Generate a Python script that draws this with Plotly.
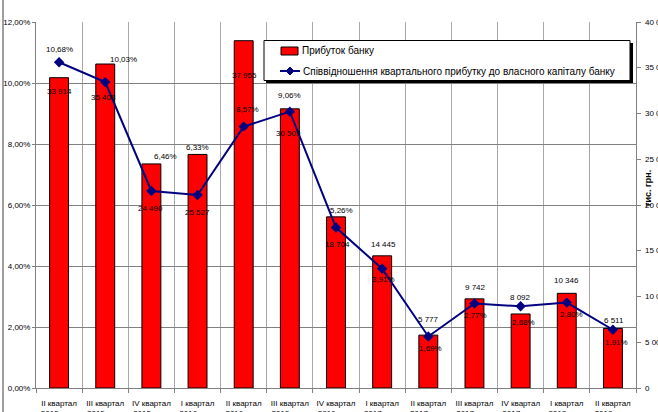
import plotly.graph_objects as go

# ---------------- data ----------------
categories = [
    "II квартал<br>2015 року", "III квартал<br>2015 року", "IV квартал<br>2015 року",
    "I квартал<br>2016 року", "II квартал<br>2016 року", "III квартал<br>2015 року",
    "IV квартал<br>2016 року", "I квартал<br>2017 року", "II квартал<br>2017 року",
    "III квартал<br>2017 року", "IV квартал<br>2017 року", "I квартал<br>2018 року",
    "II квартал<br>2018 року",
]
profit = [33914, 35408, 24490, 25527, 37955, 30509, 18704, 14445, 5777, 9742, 8092, 10346, 6511]
ratio = [10.68, 10.03, 6.46, 6.33, 8.57, 9.06, 5.26, 3.91, 1.69, 2.77, 2.68, 2.80, 1.91]

left_tickvals = [0, 2, 4, 6, 8, 10, 12]
left_ticktext = ["0,00%", "2,00%", "4,00%", "6,00%", "8,00%", "10,00%", "12,00%"]
right_tickvals = [0, 5000, 10000, 15000, 20000, 25000, 30000, 35000, 40000]
right_ticktext = ["0", "5 000", "10 000", "15 000", "20 000", "25 000", "30 000", "35 000", "40 000"]

name_profit = "Прибуток банку"
name_ratio = "Співвідношення квартального прибутку до власного капіталу банку"
right_title = "тис. грн."

# label placement offsets in px (dx right, dy down)
ratio_dx = [0, 18, 14, 0, 4, 0, 5, 1, 2, 1, 3, 5, 4]
ratio_dy = [-13, -23, -34, -47, -17, -16, -17, 11, 12, 12, 16, 12, 13]
profit_dx = [0, -2, -1, 0, 1, -1, 1, 1, 0, 1, 0, 0, 1]
profit_dy = [14, 33, 45, 58, 35, 25, 28, -11, -16, -11, -16, -13, -8]

# ---------------- figure ----------------
W, H = 658, 412
ML, MR, MT, MB = 36, 22, 22, 24
PW, PH = W - ML - MR, H - MT - MB
FONT = "Liberation Sans, Arial, sans-serif"
NAVY = "#000080"


def px_x(p):
    return (p - ML) / PW


def px_y(p):
    return (H - MB - p) / PH


xpos = list(range(len(categories)))

fig = go.Figure()
fig.add_trace(go.Bar(
    x=xpos, y=profit, name=name_profit, yaxis="y", width=0.41,
    marker=dict(color="#FF0000", line=dict(color="#000000", width=1)),
    showlegend=False, hoverinfo="skip",
))
fig.add_trace(go.Scatter(
    x=xpos, y=ratio, name=name_ratio, yaxis="y2", mode="lines+markers",
    line=dict(color=NAVY, width=2),
    marker=dict(symbol="diamond", size=8, color=NAVY),
    showlegend=False, hoverinfo="skip",
))

annotations = []
for i, v in enumerate(ratio):
    annotations.append(dict(
        x=xpos[i], y=v, xref="x", yref="y2", text=f"{v:.2f}%".replace(".", ","),
        showarrow=False, xshift=ratio_dx[i], yshift=-ratio_dy[i],
        font=dict(size=8, color="#000000", family=FONT),
    ))
for i, v in enumerate(profit):
    annotations.append(dict(
        x=xpos[i], y=v, xref="x", yref="y", text=f"{v:,}".replace(",", " "),
        showarrow=False, xshift=profit_dx[i], yshift=-profit_dy[i],
        font=dict(size=8, color="#000000", family=FONT),
    ))
# right axis tick labels (run past the right edge of the picture, as in the original)
for tv, tt in zip(right_tickvals, right_ticktext):
    annotations.append(dict(
        x=px_x(643), y=tv, xref="paper", yref="y", text=tt,
        xanchor="left", yanchor="middle", showarrow=False,
        font=dict(size=8, color="#000000", family=FONT),
    ))
# right axis title
annotations.append(dict(
    x=px_x(648), y=px_y(189), xref="paper", yref="paper", text="<b>" + right_title + "</b>",
    xanchor="center", yanchor="middle",
    textangle=-90, showarrow=False, font=dict(size=9, color="#000000", family=FONT),
))
# legend texts
annotations.append(dict(
    x=px_x(300), y=px_y(51), xref="paper", yref="paper", text=name_profit,
    xanchor="left", yanchor="middle", showarrow=False,
    font=dict(size=10, color="#000000", family=FONT),
))
annotations.append(dict(
    x=px_x(301), y=px_y(71), xref="paper", yref="paper", text=name_ratio,
    xanchor="left", yanchor="middle", showarrow=False,
    font=dict(size=10, color="#000000", family=FONT),
))

dx, dy = 4 / PW, 4 / PH
diamond = (f"M {px_x(290) - dx},{px_y(71)} L {px_x(290)},{px_y(71) + dy} "
           f"L {px_x(290) + dx},{px_y(71)} L {px_x(290)},{px_y(71) - dy} Z")
shapes = [
    # chart border on the left
    dict(type="line", xref="paper", yref="paper", x0=px_x(3), x1=px_x(3), y0=px_y(412), y1=px_y(0),
         line=dict(color="#404040", width=1)),
    # legend shadow and box
    dict(type="rect", xref="paper", yref="paper", x0=px_x(266), x1=px_x(633), y0=px_y(83), y1=px_y(43),
         fillcolor="#000000", line=dict(width=0), layer="above"),
    dict(type="rect", xref="paper", yref="paper", x0=px_x(264), x1=px_x(630), y0=px_y(80.5), y1=px_y(40.5),
         fillcolor="#FFFFFF", line=dict(color="#000000", width=1), layer="above"),
    # legend symbols
    dict(type="rect", xref="paper", yref="paper", x0=px_x(281), x1=px_x(298), y0=px_y(55), y1=px_y(47),
         fillcolor="#FF0000", line=dict(color="#000000", width=1), layer="above"),
    dict(type="line", xref="paper", yref="paper", x0=px_x(280), x1=px_x(300), y0=px_y(71), y1=px_y(71),
         line=dict(color=NAVY, width=2), layer="above"),
    dict(type="path", xref="paper", yref="paper", path=diamond,
         fillcolor=NAVY, line=dict(color=NAVY, width=1), layer="above"),
]

fig.update_layout(
    width=W, height=H,
    margin=dict(l=ML, r=MR, t=MT, b=MB, autoexpand=False),
    paper_bgcolor="#FFFFFF", plot_bgcolor="#FFFFFF",
    font=dict(family=FONT, size=8, color="#000000"),
    showlegend=False,
    hovermode=False,
    xaxis=dict(
        range=[-0.5, len(categories) - 0.5],
        tickmode="array", tickvals=xpos, ticktext=categories, tickangle=0,
        ticks="outside", ticklen=7, tickcolor="rgba(0,0,0,0)",
        showgrid=False, zeroline=False,
        showline=True, linecolor="#808080", linewidth=1,
        ticklabeloverflow="allow",
        tickfont=dict(size=8, family=FONT, color="#000000"),
        minor=dict(tickmode="linear", tick0=-0.5, dtick=1, showgrid=True, gridcolor="#A8A8A8",
                   gridwidth=1, ticks="outside", ticklen=4, tickcolor="#808080"),
    ),
    yaxis=dict(
        side="right", range=[0, 40000], tickvals=right_tickvals,
        showticklabels=False,
        showgrid=False, zeroline=False, showline=True, linecolor="#808080", linewidth=1,
        ticks="outside", ticklen=4, tickcolor="#808080",
    ),
    yaxis2=dict(
        overlaying="y", side="left", range=[0, 12], tickvals=left_tickvals, ticktext=left_ticktext,
        showgrid=True, gridcolor="#808080", gridwidth=1, zeroline=False,
        showline=True, linecolor="#808080", linewidth=1,
        ticks="outside", ticklen=3, tickcolor="#808080", ticklabeloverflow="allow",
        tickfont=dict(size=8, family=FONT, color="#000000"),
    ),
    annotations=annotations,
    shapes=shapes,
)

fig.write_html("out.html", config={"displayModeBar": False, "staticPlot": True},
               post_script="document.body.style.margin='0px';")
